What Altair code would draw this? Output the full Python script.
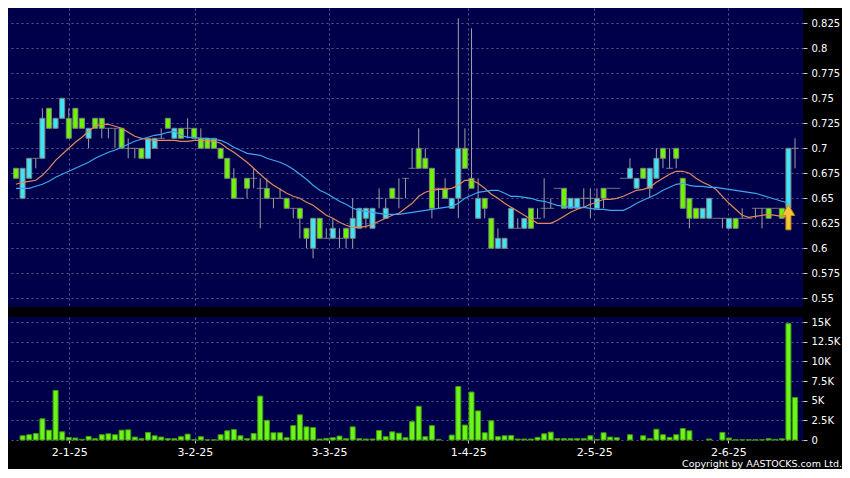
import altair as alt
import pandas as pd

# ---------------- data ----------------
opens = [0.68,0.65,0.67,0.69,0.69,0.74,0.72,0.73,0.73,0.74,
         0.73,0.71,0.73,0.73,0.72,0.72,0.72,0.70,0.70,0.70,
         0.69,0.70,0.71,0.73,0.71,0.72,0.72,0.72,0.71,0.71,
         0.71,0.70,0.69,0.67,0.65,0.67,0.67,0.66,0.66,0.65,
         0.65,0.65,0.64,0.64,0.62,0.60,0.63,0.61,0.61,0.61,
         0.62,0.61,0.62,0.63,0.62,0.65,0.63,0.66,0.65,0.67,
         0.68,0.70,0.69,0.68,0.66,0.66,0.64,0.65,0.70,0.67,
         0.63,0.65,0.63,0.60,0.60,0.62,0.62,0.62,0.64,0.63,
         0.64,0.64,0.66,0.66,0.64,0.64,0.65,0.65,0.64,0.66,
         0.66,0.66,0.67,0.67,0.66,0.68,0.66,0.67,0.70,0.68,
         0.70,0.67,0.65,0.64,0.63,0.63,0.63,0.63,0.62,0.63,
         0.63,0.63,0.64,0.64,0.64,0.64,0.64,0.64,0.70]
closes = [0.67,0.68,0.69,0.69,0.73,0.72,0.73,0.75,0.71,0.72,
          0.72,0.72,0.72,0.72,0.72,0.72,0.70,0.70,0.70,0.69,
          0.71,0.71,0.71,0.72,0.72,0.71,0.72,0.71,0.70,0.70,
          0.70,0.69,0.67,0.65,0.65,0.66,0.67,0.66,0.65,0.65,
          0.65,0.64,0.64,0.63,0.61,0.63,0.61,0.61,0.62,0.61,
          0.61,0.63,0.64,0.64,0.64,0.65,0.64,0.65,0.65,0.67,
          0.68,0.68,0.68,0.64,0.66,0.65,0.65,0.70,0.68,0.66,
          0.65,0.64,0.60,0.61,0.61,0.64,0.62,0.63,0.62,0.63,
          0.64,0.64,0.66,0.64,0.65,0.65,0.65,0.65,0.65,0.65,
          0.66,0.66,0.67,0.68,0.67,0.67,0.68,0.69,0.69,0.68,
          0.69,0.64,0.63,0.63,0.64,0.65,0.63,0.63,0.63,0.62,
          0.63,0.63,0.64,0.64,0.63,0.64,0.63,0.70,0.70]
highs = [0.68,0.68,0.69,0.69,0.74,0.74,0.73,0.75,0.74,0.74,
         0.73,0.72,0.73,0.73,0.72,0.72,0.72,0.71,0.70,0.70,
         0.71,0.71,0.72,0.73,0.72,0.72,0.73,0.72,0.72,0.71,
         0.71,0.70,0.69,0.68,0.65,0.67,0.68,0.67,0.67,0.65,
         0.66,0.65,0.64,0.64,0.62,0.63,0.63,0.62,0.63,0.62,
         0.62,0.65,0.64,0.64,0.64,0.66,0.65,0.66,0.67,0.67,
         0.70,0.72,0.70,0.68,0.66,0.67,0.65,0.83,0.72,0.82,
         0.67,0.65,0.63,0.62,0.61,0.64,0.63,0.63,0.64,0.64,
         0.67,0.65,0.66,0.66,0.65,0.65,0.66,0.66,0.66,0.66,
         0.66,0.66,0.67,0.69,0.67,0.68,0.68,0.70,0.70,0.70,
         0.70,0.67,0.65,0.64,0.64,0.65,0.63,0.63,0.63,0.63,
         0.64,0.63,0.64,0.64,0.64,0.64,0.64,0.70,0.71]
lows = [0.67,0.65,0.67,0.68,0.69,0.72,0.72,0.73,0.71,0.72,
        0.72,0.70,0.72,0.71,0.71,0.70,0.70,0.69,0.69,0.69,
        0.69,0.70,0.71,0.72,0.71,0.71,0.71,0.71,0.70,0.70,
        0.70,0.69,0.67,0.65,0.65,0.65,0.66,0.62,0.65,0.64,
        0.65,0.64,0.63,0.61,0.60,0.59,0.61,0.61,0.61,0.60,
        0.60,0.60,0.62,0.62,0.62,0.64,0.63,0.65,0.64,0.65,
        0.68,0.68,0.68,0.63,0.64,0.65,0.64,0.63,0.68,0.66,
        0.63,0.63,0.60,0.60,0.60,0.62,0.62,0.62,0.62,0.63,
        0.63,0.64,0.66,0.64,0.64,0.64,0.64,0.63,0.64,0.64,
        0.66,0.66,0.67,0.67,0.66,0.67,0.65,0.67,0.68,0.68,
        0.68,0.64,0.62,0.63,0.63,0.63,0.63,0.62,0.62,0.62,
        0.63,0.63,0.63,0.62,0.63,0.64,0.63,0.64,0.68]
volumes = [0,540,670,830,2700,1250,6300,1040,330,250,
           80,460,170,670,790,670,1250,1290,375,170,
           960,540,375,170,170,420,750,40,420,20,
           20,670,1170,1330,540,170,830,5580,2500,920,
           920,290,1830,3200,1670,1580,125,210,290,500,
           170,1670,170,125,125,1210,420,1040,870,290,
           2330,4290,420,1830,80,0,625,6800,1900,6100,
           3700,920,2450,420,540,580,125,125,125,330,
           790,1000,170,170,170,170,170,540,80,920,
           375,290,0,670,0,540,170,1370,670,330,
           670,1460,1170,0,0,125,0,960,250,30,
           30,30,30,30,170,80,150,14800,5400]
ma_orange = [0.664,0.666,0.667,0.668,0.673,0.680,0.688,0.694,0.700,0.706,
             0.711,0.717,0.722,0.724,0.724,0.722,0.720,0.716,0.712,0.710,
             0.709,0.708,0.708,0.708,0.708,0.707,0.707,0.708,0.708,0.708,
             0.707,0.705,0.700,0.696,0.691,0.686,0.680,0.674,0.668,0.663,
             0.659,0.655,0.652,0.650,0.646,0.643,0.638,0.633,0.630,0.626,
             0.623,0.621,0.621,0.622,0.624,0.627,0.630,0.633,0.635,0.640,
             0.645,0.652,0.656,0.658,0.659,0.659,0.660,0.663,0.668,0.668,
             0.665,0.660,0.654,0.650,0.645,0.641,0.637,0.633,0.629,0.625,
             0.625,0.625,0.628,0.632,0.636,0.639,0.641,0.644,0.646,0.649,
             0.649,0.650,0.652,0.655,0.658,0.659,0.661,0.666,0.670,0.674,
             0.677,0.677,0.675,0.670,0.666,0.663,0.659,0.652,0.645,0.639,
             0.633,0.631,0.632,0.633,0.634,0.633,0.632,0.632]
ma_blue = [0.660,0.660,0.660,0.662,0.664,0.667,0.671,0.674,0.677,0.680,
           0.683,0.686,0.690,0.693,0.696,0.698,0.701,0.704,0.707,0.709,
           0.711,0.713,0.714,0.716,0.717,0.713,0.711,0.711,0.710,0.710,
           0.709,0.708,0.705,0.701,0.698,0.695,0.694,0.693,0.690,0.688,
           0.686,0.683,0.679,0.674,0.669,0.663,0.658,0.655,0.651,0.647,
           0.644,0.640,0.638,0.637,0.636,0.635,0.634,0.634,0.634,0.635,
           0.636,0.637,0.638,0.639,0.640,0.641,0.642,0.645,0.650,0.653,
           0.656,0.657,0.658,0.658,0.655,0.652,0.652,0.651,0.650,0.648,
           0.647,0.645,0.643,0.642,0.641,0.641,0.641,0.640,0.639,0.639,
           0.638,0.638,0.638,0.641,0.645,0.648,0.651,0.654,0.658,0.661,
           0.664,0.665,0.663,0.662,0.662,0.661,0.661,0.660,0.659,0.658,
           0.657,0.656,0.655,0.653,0.651,0.649,0.647,0.645]
date_ticks = [8.07, 27.1, 47.4, 68.5, 87.6, 107.9]
date_labels = ["2-1-25", "3-2-25", "3-3-25", "1-4-25", "2-5-25", "2-6-25"]
price_ticks = [0.55, 0.575, 0.6, 0.625, 0.65, 0.675, 0.7, 0.725, 0.75, 0.775, 0.8, 0.825]
vol_ticks = [0, 2500, 5000, 7500, 10000, 12500, 15000]
signal_idx = [117]
signal_price = [0.631]
copyright_text = ["Copyright by AASTOCKS.com Ltd."]

# ---------------- tables ----------------
n = len(opens)
candles = pd.DataFrame({
    "i": list(range(n)), "open": opens, "close": closes,
    "high": highs, "low": lows, "volume": volumes,
})
candles["dir"] = ["up" if c > o else ("down" if c < o else "flat")
                  for o, c in zip(opens, closes)]
ma = pd.DataFrame({"i": list(range(len(ma_orange))),
                   "orange": ma_orange, "blue": ma_blue})
sig = pd.DataFrame({"i": signal_idx, "p": signal_price})

# ---------------- styling ----------------
W = 795
H_MAIN = 299
H_VOL = 123
GREEN = "#6cf700"
CYAN = "#3fe4f6"
GRID = "#5a5a92"
WICK = "#a0a0a0"

xdom = [-0.449, 118.45]

def label_expr():
    parts = []
    for k, lab in enumerate(date_labels):
        if k < len(date_labels) - 1:
            mid = (date_ticks[k] + date_ticks[k + 1]) / 2
            parts.append(f"datum.value < {mid} ? '{lab}' : ")
        else:
            parts.append(f"'{lab}'")
    return "".join(parts)

x_main = alt.X("i:Q", scale=alt.Scale(domain=xdom, nice=False, zero=False),
               axis=alt.Axis(values=date_ticks, labels=False, ticks=False,
                             domain=False, grid=True, gridColor=GRID,
                             gridDash=[2, 3], title=None))
y_scale = alt.Scale(domain=[0.5413, 0.8403], nice=False, zero=False)
y_axis = alt.Axis(orient="right", values=price_ticks, format=".3~f",
                  grid=True, gridColor=GRID, gridDash=[2, 3], domain=False,
                  tickSize=4, tickColor="#cccccc", labelPadding=4,
                  labelColor="white", labelFontSize=10, labelFont="DejaVu Sans",
                  labelOverlap=False, labelFlush=False, title=None)

def Y(field):
    return alt.Y(field, scale=y_scale, axis=y_axis)

base = alt.Chart(candles)

wicks = base.mark_rule(color=WICK, strokeWidth=1).encode(
    x=x_main, y=Y("low:Q"), y2="high:Q",
)
bodies = base.transform_filter("datum.dir != 'flat'").mark_bar(
    size=5, stroke="#7f7f7f", strokeWidth=1
).encode(
    x=x_main, y=Y("open:Q"), y2="close:Q",
    color=alt.Color("dir:N", scale=alt.Scale(domain=["up", "down"], range=[CYAN, GREEN]),
                    legend=None),
)
doji = base.transform_filter("datum.dir == 'flat'").mark_tick(
    orient="horizontal", size=7, thickness=1, color=WICK
).encode(x=x_main, y=Y("close:Q"))
ma_o = alt.Chart(ma).mark_line(color="#e08a5a", strokeWidth=1.2).encode(
    x=x_main, y=Y("orange:Q"))
ma_b = alt.Chart(ma).mark_line(color="#3ea6ee", strokeWidth=1.2).encode(
    x=x_main, y=Y("blue:Q"))
arrow = alt.Chart(sig).mark_point(
    shape="M0,-1L0.5,-0.15L0.2,-0.15L0.2,1L-0.2,1L-0.2,-0.15L-0.5,-0.15Z",
    size=625, filled=True, fill="#f6c33a", stroke="#c98f10", strokeWidth=1, opacity=1
).encode(x=x_main, y=Y("p:Q"))

main = alt.layer(wicks, bodies, doji, ma_o, ma_b, arrow).properties(
    width=W, height=H_MAIN)

# volume panel
x_vol = alt.X("i:Q", scale=alt.Scale(domain=xdom, nice=False, zero=False),
              axis=alt.Axis(values=date_ticks, labelExpr=label_expr(),
                            grid=True, gridColor=GRID, gridDash=[2, 3],
                            domain=False, tickSize=3, tickColor="#cccccc",
                            labelPadding=3, labelColor="white",
                            labelFontSize=11, labelFont="DejaVu Sans",
                            labelFlush=False, labelOverlap=False, title=None))
vol_bars = alt.Chart(candles).transform_filter("datum.volume > 0").mark_bar(
    size=5, fill="#6cf51a", stroke="#3f9a0c", strokeWidth=1
).encode(
    x=x_vol,
    y=alt.Y("volume:Q", scale=alt.Scale(domain=[0, 15640], nice=False),
            axis=alt.Axis(orient="right", values=vol_ticks,
                          labelExpr="datum.value == 0 ? '0' : format(datum.value / 1000, '~g') + 'K'",
                          grid=True, gridColor=GRID, gridDash=[2, 3], domain=False,
                          tickSize=4, tickColor="#cccccc", labelPadding=4,
                          labelColor="white", labelFontSize=10,
                          labelOverlap=False, labelFlush=False,
                          labelFont="DejaVu Sans", title=None)),
)
copyright_mark = alt.Chart(pd.DataFrame({"t": copyright_text})).mark_text(
    align="right", baseline="alphabetic", color="white", fontSize=9.5,
    font="DejaVu Sans"
).encode(text="t:N", x=alt.value(834), y=alt.value(150))

vol = alt.layer(vol_bars, copyright_mark).properties(width=W, height=H_VOL)

chart = alt.vconcat(main, vol, spacing=10).properties(
    padding={"left": 0, "top": 0, "right": 0, "bottom": 0}
).configure(background="#000000").configure_view(
    fill="#00004a", stroke=None
)

chart.save("out.html", embed_options={"renderer": "svg", "actions": False})
